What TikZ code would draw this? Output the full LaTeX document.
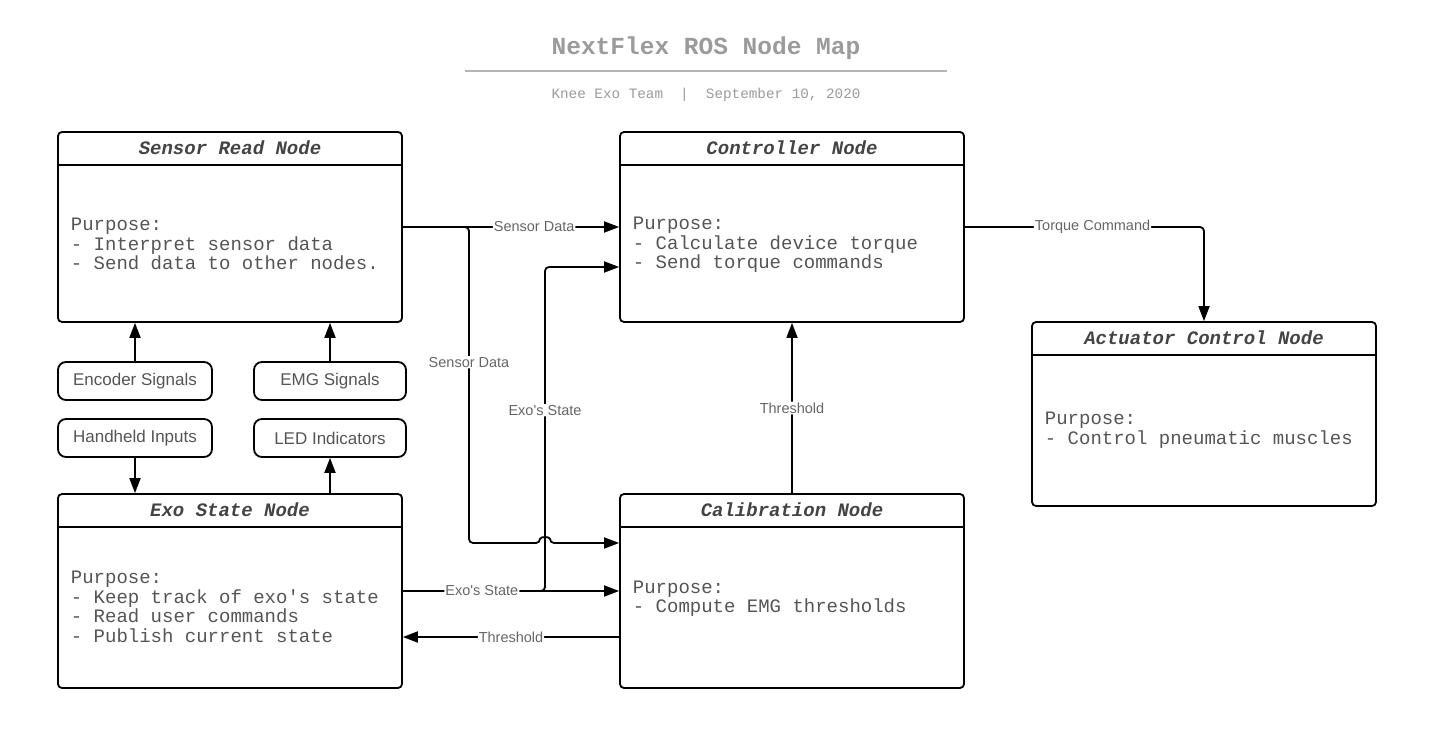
\documentclass[tikz,border=0pt]{standalone}
\usepackage{fontspec}
\setmainfont{Liberation Sans}
\setmonofont{Liberation Mono}
\usetikzlibrary{arrows.meta}
\definecolor{hdr}{HTML}{444444}
\definecolor{bodyc}{HTML}{555555}
\definecolor{lblc}{HTML}{666666}
\definecolor{ttl}{HTML}{9B9B9B}
\definecolor{rulec}{HTML}{B4B4B4}
\begin{document}
\begin{tikzpicture}[x=1pt,y=-1pt,
  line width=1.8pt,
  bigbox/.style={draw=black, line width=1.8pt, rounded corners=4pt, inner sep=0pt},
  smallbox/.style={draw=black, line width=1.8pt, rounded corners=8pt, inner sep=0pt, minimum height=38pt, font=\fontsize{17}{20}\selectfont, text=bodyc},
  hdrtext/.style={font=\ttfamily\bfseries\itshape\fontsize{19}{22}\selectfont, text=hdr},
  bodytext/.style={font=\ttfamily\fontsize{19}{19.5}\selectfont, text=bodyc, align=left, inner sep=0pt, anchor=west},
  arr/.style={-{Triangle[length=15pt,width=11pt]}, line width=1.8pt, rounded corners=4pt},
  lbl/.style={font=\fontsize{14.5}{16}\selectfont, text=lblc, fill=white, inner sep=1pt},
  hline/.style={line width=1.8pt},
]
\useasboundingbox (0,0) rectangle (1430,735);
\fill[white] (0,0) rectangle (1430,735);

% title
\node[font=\ttfamily\bfseries\fontsize{24.5}{28}\selectfont, text=ttl] (title) at (706,48) {NextFlex ROS Node Map};
\coordinate (ruleL) at (465,71);
\coordinate (ruleR) at (947,71);
\draw[rulec, line width=2pt] (ruleL) -- (ruleR);
\node[font=\ttfamily\fontsize{14.3}{16}\selectfont, text=ttl] (sub) at (706,95) {Knee Exo Team\ \ |\ \ September 10, 2020};

% big boxes
\node[bigbox, minimum width=344pt, minimum height=190pt] (sr) at (230,227) {};
\node[bigbox, minimum width=344pt, minimum height=190pt] (ctl) at (792,227) {};
\node[bigbox, minimum width=344pt, minimum height=184pt] (act) at (1204,414) {};
\node[bigbox, minimum width=344pt, minimum height=194pt] (exo) at (230,591) {};
\node[bigbox, minimum width=344pt, minimum height=194pt] (cal) at (792,591) {};

\foreach \b in {sr,ctl,act,exo,cal}{
  \draw[hline] ([yshift=-34pt]\b.north west) -- ([yshift=-34pt]\b.north east);
}

\node[hdrtext] (srh) at ([yshift=-17pt]sr.north) {Sensor Read Node};
\node[hdrtext] (ctlh) at ([yshift=-17pt]ctl.north) {Controller Node};
\node[hdrtext] (acth) at ([yshift=-17pt]act.north) {Actuator Control Node};
\node[hdrtext] (exoh) at ([yshift=-17pt]exo.north) {Exo State Node};
\node[hdrtext] (calh) at ([yshift=-17pt]cal.north) {Calibration Node};

\node[bodytext] (srb) at (70,244) {Purpose:\\- Interpret sensor data\\- Send data to other nodes.};
\node[bodytext] (ctlb) at (632,245) {Purpose:\\- Calculate device torque\\- Send torque commands};
\node[bodytext] (actb) at (1044,430) {Purpose:\\- Control pneumatic muscles};
\node[bodytext] (exob) at (70,607) {Purpose:\\- Keep track of exo's state\\- Read user commands\\- Publish current state};
\node[bodytext] (calb) at (632,598.5) {Purpose:\\- Compute EMG thresholds};

% small boxes
\node[smallbox, minimum width=154pt] (enc) at (135,381) {Encoder Signals};
\node[smallbox, minimum width=152pt] (emg) at (330,381) {EMG Signals};
\node[smallbox, minimum width=154pt] (hh) at (135,438) {Handheld Inputs};
\node[smallbox, minimum width=152pt] (led) at (330,438) {LED Indicators};

\draw[arr] (enc.north) -- (sr.south -| enc.north);
\draw[arr] (emg.north) -- (sr.south -| emg.north);
\draw[arr] (hh.south) -- (exo.north -| hh.south);
\draw[arr] (exo.north -| led.south) -- (led.south);

% waypoints
\coordinate (sdx) at (469,543);
\coordinate (hopA) at (540,543);
\coordinate (hopB) at (550,543);
\coordinate (esx) at (545,267);
\coordinate (thr) at (500,637);

% branches first
\draw[arr] (sr.east) -| node[lbl, pos=0.714]{Sensor Data} (sdx) -- (hopA)
  .. controls (540,536.3) and (550,536.3) .. (hopB) -- (cal.west |- sdx);
\draw[arr] (exo.east) -| node[lbl, pos=0.779]{Exo\textquotesingle s State} (esx) -- (ctl.west |- esx);

% main connectors
\draw[arr] (sr.east) -- node[lbl, pos=0.607]{Sensor Data} (ctl.west);
\draw[arr] (exo.east) -- node[lbl, pos=0.365]{Exo\textquotesingle s State} (cal.west);
\draw[arr] (cal.west |- thr) -- node[lbl]{Threshold} (exo.east |- thr);
\draw[arr] (cal.north) -- node[lbl]{Threshold} (ctl.south);
\draw[arr] (ctl.east) -| node[lbl, pos=0.267]{Torque Command} (act.north);
\end{tikzpicture}
\end{document}
